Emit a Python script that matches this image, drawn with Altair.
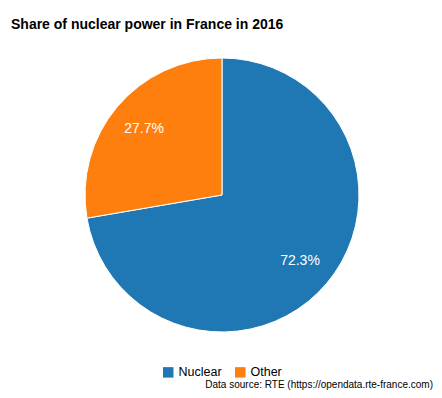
import altair as alt
import pandas as pd

sources = ["Nuclear", "Other"]
shares = [72.3, 27.7]
labels = ["72.3%", "27.7%"]
colors = ["#1f77b4", "#ff7f0e"]

df = pd.DataFrame({"source": sources, "share": shares, "label": labels, "order": [0, 1]})

CX, CY = 214, 147

base = alt.Chart(df).encode(
    theta=alt.Theta("share:Q", stack=True),
    order=alt.Order("order:Q"),
    x=alt.value(CX),
    y=alt.value(CY),
)

pie = base.mark_arc(outerRadius=137, stroke="white", strokeWidth=1).encode(
    color=alt.Color(
        "source:N",
        scale=alt.Scale(domain=sources, range=colors),
        legend=alt.Legend(
            title=None,
            orient="none",
            legendX=154,
            legendY=318,
            direction="horizontal",
            symbolType="square",
            symbolSize=110,
            symbolStrokeWidth=0,
            labelFont="Liberation Sans",
            labelFontSize=12.5,
            labelColor="#000",
            columnPadding=12,
        ),
    )
)

text = base.mark_text(radius=102, color="white", fontSize=14, font="Liberation Sans").encode(
    text="label:N"
)

src = alt.Chart(pd.DataFrame({"t": ["Data source: RTE (https://opendata.rte-france.com)"]})).mark_text(
    align="right", baseline="alphabetic", fontSize=10, font="Liberation Sans", color="#000"
).encode(text="t:N", x=alt.value(425), y=alt.value(340))

chart = (
    alt.layer(pie, text, src)
    .properties(
        width=426,
        height=342,
        padding={"left": 0, "top": 40, "right": 0, "bottom": 0},
        autosize=alt.AutoSizeParams(type="none"),
        title=alt.TitleParams(
            "Share of nuclear power in France in 2016",
            anchor="start",
            font="Liberation Sans",
            fontSize=14,
            fontWeight="bold",
            color="#000",
            dx=3,
            offset=16,
        ),
    )
    .configure_view(stroke=None)
)

chart.save("out.html", embed_options={"renderer": "svg", "actions": False})
